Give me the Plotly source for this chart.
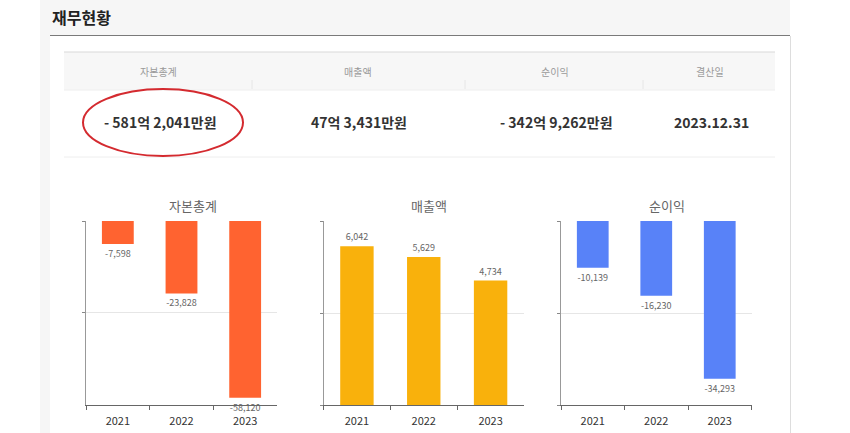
import plotly.graph_objects as go

W, H = 850, 433

def X(px):
    return px / W

def Y(py):
    return 1 - py / H

years = ["2021", "2022", "2023"]
equity = [-7598, -23828, -58120]      # 자본총계
revenue = [6042, 5629, 4734]          # 매출액
net_income = [-10139, -16230, -34293] # 순이익

header_labels = ["자본총계", "매출액", "순이익", "결산일"]
header_values = ["- 581억 2,041만원", "47억 3,431만원", "- 342억 9,262만원", "2023.12.31"]
chart_titles = ["자본총계", "매출액", "순이익"]

FONT = "Noto Sans CJK KR"

fig = go.Figure()

series = [equity, revenue, net_income]
colors = ["#FF6330", "#F9B10C", "#5882F8"]
xdomains = [(86, 277), (323.5, 524), (561, 751.5)]
yranges = [[-60500, 0], [0, 7000], [-40000, 0]]
tickvals = [[0, -30000], [0, 3500, 7000], [0, -20000, -40000]]
title_cx = [193, 429, 667]

for i, (vals, col) in enumerate(zip(series, colors)):
    sfx = "" if i == 0 else str(i + 1)
    fig.add_trace(go.Bar(
        x=years, y=vals,
        marker=dict(color=col, line=dict(width=0)),
        text=[f"{v:,}" for v in vals],
        textposition="outside",
        textfont=dict(size=9, color="#666666", family=FONT),
        constraintext="none",
        cliponaxis=False,
        xaxis="x" + sfx, yaxis="y" + sfx,
        showlegend=False, hoverinfo="skip",
    ))

layout = dict(
    width=W, height=H,
    margin=dict(l=0, r=0, t=0, b=0),
    paper_bgcolor="white", plot_bgcolor="rgba(0,0,0,0)",
    font=dict(family=FONT, color="#333333"),
    bargap=0.5,
    showlegend=False,
)

ydom = [Y(405), Y(221)]
for i in range(3):
    sfx = "" if i == 0 else str(i + 1)
    layout["xaxis" + sfx] = dict(
        domain=[X(xdomains[i][0]), X(xdomains[i][1])],
        anchor="y" + sfx, type="category",
        showline=True, linecolor="#666666", linewidth=1,
        ticks="outside", ticklen=4, tickcolor="#666666", tickson="boundaries",
        ticklabelstandoff=6,
        showgrid=False, zeroline=False,
        tickfont=dict(size=11, color="#333333", family=FONT),
        fixedrange=True,
    )
    layout["yaxis" + sfx] = dict(
        domain=ydom, anchor="x" + sfx,
        range=yranges[i], tickmode="array", tickvals=tickvals[i],
        showline=True, linecolor="#999999", linewidth=1,
        ticks="outside", ticklen=3, tickcolor="#888888",
        showticklabels=False,
        showgrid=True, gridcolor="#e6e6e6", gridwidth=1,
        zeroline=False, fixedrange=True,
    )

fig.update_layout(**layout)

shapes = []
# page background pieces
shapes.append(dict(type="rect", xref="paper", yref="paper", x0=X(40), x1=X(790), y0=Y(35), y1=Y(0),
                   fillcolor="#f6f6f6", line=dict(width=0), layer="below"))
shapes.append(dict(type="rect", xref="paper", yref="paper", x0=X(40), x1=X(50), y0=Y(433), y1=Y(35),
                   fillcolor="#f6f6f6", line=dict(width=0), layer="below"))
# panel top border
shapes.append(dict(type="line", xref="paper", yref="paper", x0=X(50), x1=X(790), y0=Y(35.5), y1=Y(35.5),
                   line=dict(color="#7a7a7a", width=1)))
# panel right border
shapes.append(dict(type="line", xref="paper", yref="paper", x0=X(790.5), x1=X(790.5), y0=Y(433), y1=Y(36),
                   line=dict(color="#dddddd", width=1)))
# table header background
shapes.append(dict(type="rect", xref="paper", yref="paper", x0=X(64), x1=X(775), y0=Y(90), y1=Y(52),
                   fillcolor="#f7f7f7", line=dict(width=0), layer="below"))
shapes.append(dict(type="line", xref="paper", yref="paper", x0=X(64), x1=X(775), y0=Y(52), y1=Y(52),
                   line=dict(color="#d9d9d9", width=1)))
shapes.append(dict(type="line", xref="paper", yref="paper", x0=X(64), x1=X(775), y0=Y(90), y1=Y(90),
                   line=dict(color="#eeeeee", width=1)))
shapes.append(dict(type="line", xref="paper", yref="paper", x0=X(64), x1=X(775), y0=Y(157), y1=Y(157),
                   line=dict(color="#eeeeee", width=1)))
for sx in [252, 465, 643]:
    shapes.append(dict(type="line", xref="paper", yref="paper", x0=X(sx), x1=X(sx), y0=Y(89), y1=Y(80),
                       line=dict(color="#e6e6e6", width=1)))
# red ellipse
shapes.append(dict(type="circle", xref="paper", yref="paper", x0=X(83), x1=X(243), y0=Y(156), y1=Y(89),
                   line=dict(color="#d42a2f", width=2)))
fig.update_layout(shapes=shapes)

ann = []
ann.append(dict(text="<b>재무현황</b>", x=X(50), y=Y(17), xref="paper", yref="paper",
                xanchor="left", yanchor="middle", showarrow=False,
                font=dict(size=16, color="#222222", family=FONT)))
col_cx = [158, 358, 555, 710]
for cx, lab in zip(col_cx, header_labels):
    ann.append(dict(text=lab, x=X(cx), y=Y(71), xref="paper", yref="paper",
                    xanchor="center", yanchor="middle", showarrow=False,
                    font=dict(size=10, color="#9a9a9a", family=FONT)))
for cx, val in zip([160, 359, 556, 711], header_values):
    ann.append(dict(text="<b>" + val + "</b>", x=X(cx), y=Y(122), xref="paper", yref="paper",
                    xanchor="center", yanchor="middle", showarrow=False,
                    font=dict(size=14, color="#333333", family=FONT)))
for cx, t in zip(title_cx, chart_titles):
    ann.append(dict(text=t, x=X(cx), y=Y(205), xref="paper", yref="paper",
                    xanchor="center", yanchor="middle", showarrow=False,
                    font=dict(size=13, color="#666666", family=FONT)))
fig.update_layout(annotations=ann)

fig.write_html("out.html")
